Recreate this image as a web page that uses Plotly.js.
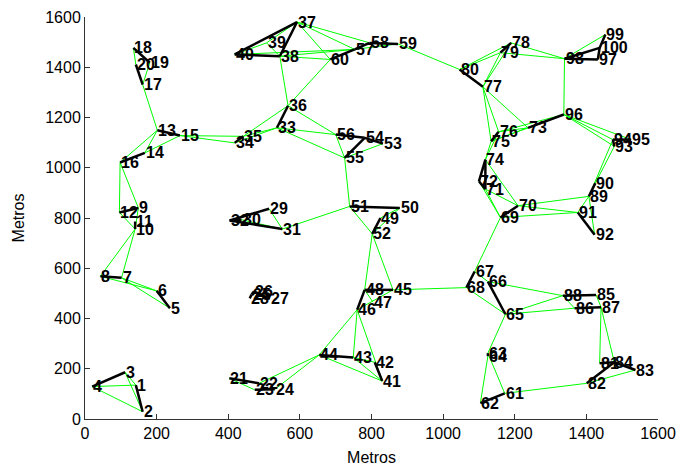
<!DOCTYPE html>
<html>
<head>
<meta charset="utf-8">
<script src="https://cdn.plot.ly/plotly-3.0.1.min.js"></script>
<style>html,body{margin:0;padding:0;background:#fff;}#chart{width:683px;height:471px;}</style>
</head>
<body>
<div id="chart"></div>
<script>
// Node coordinates (index 0 -> node 1)
const nodeX = [142,161,112,20,237,200,102,43,149,140,
               140,96,202,167,265,98,161,135,181,142,
               403,486,474,530,465,472,516,460,514,437,
               551,404,536,418,442,567,592,544,507,418,
               830,809,749,654,860,760,804,781,825,879,
               739,802,832,781,725,700,753,795,874,685,
               1172,1104,1125,1125,1174,1125,1088,1065,1160,1209,
               1118,1100,1237,1118,1134,1155,1111,1190,1160,1046,
               1437,1401,1537,1478,1427,1367,1441,1334,1407,1425,
               1376,1423,1478,1474,1525,1337,1432,1339,1453,1437];
const nodeY = [135,29,186,129,441,510,562,568,840,756,
               786,822,1149,1059,1128,1021,1331,1477,1418,1411,
               162,142,116,118,495,508,478,480,837,793,
               756,790,1159,1099,1125,1247,1580,1444,1497,1451,
               151,226,245,255,514,435,465,514,800,840,
               846,737,1096,1119,1039,1132,1471,1497,1493,1431,
               102,63,262,250,417,547,587,523,802,849,
               915,946,1159,1032,1105,1143,1322,1497,1458,1391,
               222,142,195,226,494,441,445,491,886,939,
               822,733,1085,1112,1112,1212,1431,1434,1530,1477];
const nodeLabels = nodeX.map((_, i) => String(i + 1));

const blackEdges = [[4,3],[1,2],[6,5],[8,7],[12,9],[11,10],[16,14],[18,19],[20,17],[13,15],
  [35,34],[36,33],[37,38],[37,40],[40,38],[60,57],[57,58],[58,59],[56,54],[54,53],[55,54],
  [32,29],[32,31],[30,32],[51,50],[49,52],[80,77],[79,78],[98,97],[98,100],[100,99],[97,100],
  [96,73],[76,75],[74,72],[72,71],[74,71],[70,69],[90,89],[91,92],[93,94],[94,95],
  [88,85],[86,87],[82,84],[84,83],[81,84],[48,45],[46,48],[42,41],[44,43],[21,22],[23,24],
  [68,67],[66,65],[63,64],[62,61],[26,25],[25,28],[26,27]];

const greenEdges = [[4,1],[4,2],[3,1],[3,2],[8,6],[7,6],[7,5],[8,10],[7,10],[12,10],[9,10],
  [16,12],[16,9],[16,13],[13,14],[14,15],[18,20],[19,17],[17,13],[15,35],[15,34],
  [40,39],[39,37],[39,38],[37,60],[37,57],[37,58],[38,60],[38,57],[40,57],[38,36],[60,36],
  [36,35],[36,56],[33,35],[33,34],[33,56],[33,55],[55,56],[55,53],[55,51],
  [29,31],[30,31],[31,51],[51,52],[50,49],[50,52],[52,48],[52,45],[57,59],[59,80],
  [80,79],[80,78],[77,79],[77,78],[77,76],[77,75],[77,73],[98,99],[98,78],[98,79],[98,96],
  [96,76],[96,75],[96,94],[96,93],[96,95],[73,76],[73,75],[75,74],[76,74],[74,70],[71,70],
  [72,69],[71,69],[69,67],[70,89],[70,91],[69,91],[89,91],[89,92],[89,94],[90,93],
  [45,68],[68,65],[67,66],[66,88],[65,88],[65,86],[88,86],[85,87],[87,84],[87,81],[82,83],
  [61,82],[65,63],[64,62],[63,61],[45,46],[47,48],[46,44],[46,43],[46,41],[43,41],[43,42],
  [44,41],[21,23],[22,44],[24,44]];

function edgeXY(edges) {
  const x = [], y = [];
  edges.forEach(([a, b]) => {
    x.push(nodeX[a - 1], nodeX[b - 1], null);
    y.push(nodeY[a - 1], nodeY[b - 1], null);
  });
  return {x, y};
}

const g = edgeXY(greenEdges);
const k = edgeXY(blackEdges);

const traces = [
  {type: 'scatter', mode: 'lines', x: g.x, y: g.y, line: {color: '#00ff00', width: 1}, hoverinfo: 'skip', connectgaps: false},
  {type: 'scatter', mode: 'lines', x: k.x, y: k.y, line: {color: '#000000', width: 2.5}, hoverinfo: 'skip', connectgaps: false}
];

const FONT = 'Liberation Sans, Arial, sans-serif';
const annotations = nodeLabels.map((t, i) => ({
  x: nodeX[i], y: nodeY[i], text: t, xref: 'x', yref: 'y',
  xanchor: 'left', yanchor: 'middle', showarrow: false, borderpad: 0,
  font: {family: FONT, size: 16, color: '#000', weight: 'bold'}
}));

const axisCommon = {
  range: [0, 1600], dtick: 200, tick0: 0, ticks: 'inside', ticklen: 5, tickcolor: '#333',
  showline: true, linecolor: '#333', linewidth: 1, showgrid: false, zeroline: false,
  tickfont: {family: FONT, size: 16, color: '#000'}
};

const layout = {
  width: 683, height: 471,
  margin: {l: 85, r: 25, t: 17, b: 52},
  paper_bgcolor: '#fff', plot_bgcolor: '#fff',
  showlegend: false,
  xaxis: Object.assign({}, axisCommon, {title: {text: 'Metros', font: {family: FONT, size: 16, color: '#000'}, standoff: 10}}),
  yaxis: Object.assign({}, axisCommon, {title: {text: 'Metros', font: {family: FONT, size: 16, color: '#000'}, standoff: 16}}),
  annotations: annotations
};

Plotly.newPlot('chart', traces, layout, {staticPlot: true});
</script>
</body>
</html>
